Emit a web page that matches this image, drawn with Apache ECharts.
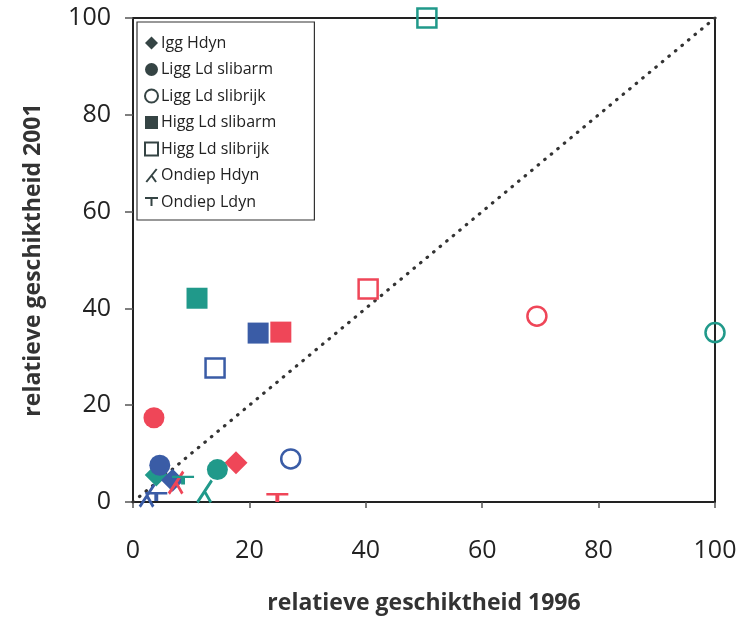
<!DOCTYPE html>
<html>
<head>
<meta charset="utf-8">
<script src="https://cdn.jsdelivr.net/npm/echarts@6/dist/echarts.min.js"></script>
<style>
  html, body { margin: 0; padding: 0; background: #fff; }
  #chart { width: 745px; height: 620px; }
</style>
</head>
<body>
<div id="chart"></div>
<script>
// Point order in every series: groen, blauw, rood
const kleuren = ['#20998a', '#3a5ca6', '#ef4658'];

const iggHdyn        = [[4.0, 5.6], [6.8, 4.5], [17.7, 8.1]];
const liggLdSlibarm  = [[14.5, 6.7], [4.6, 7.6], [3.6, 17.4]];
const liggLdSlibrijk = [[100, 35.0], [27.1, 8.9], [69.4, 38.4]];
const higgLdSlibarm  = [[11.0, 42.1], [21.5, 34.9], [25.4, 35.1]];
const higgLdSlibrijk = [[50.5, 100], [14.1, 27.7], [40.4, 44.0]];
const ondiepHdyn     = [[12.3, 2.2], [2.4, 1.3], [7.4, 4.0]];
const ondiepLdyn     = [[8.6, 4.4], [4.0, 1.0], [24.8, 0.8]];

const seriesNamen = ['Igg Hdyn', 'Ligg Ld slibarm', 'Ligg Ld slibrijk',
  'Higg Ld slibarm', 'Higg Ld slibrijk', 'Ondiep Hdyn', 'Ondiep Ldyn'];
const seriesData = [iggHdyn, liggLdSlibarm, liggLdSlibrijk,
  higgLdSlibarm, higgLdSlibrijk, ondiepHdyn, ondiepLdyn];

const xTicks = [0, 20, 40, 60, 80, 100];
const yTicks = [0, 20, 40, 60, 80, 100];

const legendColor = '#354444';
const lambdaPath = 'path://M0,20L16,0M8,10L15,20';
const tPath = 'path://M0,0L20,0M10,0L10,12';

// marker look per series: [symbol, size, filled]
const markers = [
  ['diamond', 23, true],
  ['circle', 21, true],
  ['circle', 19, false],
  ['rect', 21, true],
  ['rect', 19, false],
  [lambdaPath, [18, 22], false],
  [tPath, [22, 13], false]
];

function buildSeries(i) {
  const [sym, size, filled] = markers[i];
  const isPath = sym.indexOf('path://') === 0;
  const bw = isPath ? 3 : 2.5;
  return {
    name: seriesNamen[i],
    type: 'scatter',
    symbol: sym,
    symbolSize: size,
    symbolKeepAspect: true,
    z: 3,
    itemStyle: filled
      ? { color: legendColor, opacity: 1 }
      : { color: isPath ? 'rgba(0,0,0,0)' : '#fff', borderColor: legendColor, borderWidth: 2.2, opacity: 1 },
    data: seriesData[i].map((p, k) => ({
      value: p,
      itemStyle: filled
        ? { color: kleuren[k], opacity: 1 }
        : { color: 'rgba(255,255,255,0)', borderColor: kleuren[k], borderWidth: bw, opacity: 1 }
    }))
  };
}

const chart = echarts.init(document.getElementById('chart'));
const textFont = '"Open Sans", "Noto Sans", sans-serif';

chart.setOption({
  animation: false,
  backgroundColor: '#fff',
  textStyle: { fontFamily: textFont },
  grid: {
    left: 133, top: 18, right: 30, bottom: 118,
    show: true, borderColor: '#222', borderWidth: 2, backgroundColor: 'transparent'
  },
  legend: {
    orient: 'vertical',
    left: 137, top: 22,
    padding: [13, 38, 10, 7],
    borderColor: '#333', borderWidth: 1.2,
    backgroundColor: '#fff',
    itemWidth: 13, itemHeight: 13, itemGap: 10.5,
    textStyle: { fontSize: 16, color: '#222', fontFamily: textFont, padding: [0, 0, 0, -2] },
    data: seriesNamen
  },
  xAxis: {
    type: 'value', min: 0, max: 100, interval: 20,
    name: 'relatieve geschiktheid 1996',
    nameLocation: 'middle', nameGap: 90,
    nameTextStyle: { fontSize: 23, fontWeight: 'bold', color: '#333', fontFamily: textFont },
    axisLine: { show: true, onZero: false, lineStyle: { color: '#222', width: 2 } },
    axisTick: { show: true, length: 6, lineStyle: { color: '#555', width: 1.5 } },
    axisLabel: { fontSize: 25, color: '#222', margin: 36,
      formatter: v => xTicks.includes(v) ? String(v) : '' },
    splitLine: { show: false }
  },
  yAxis: {
    type: 'value', min: 0, max: 100, interval: 20,
    name: 'relatieve geschiktheid 2001',
    nameLocation: 'middle', nameGap: 88,
    nameTextStyle: { fontSize: 23, fontWeight: 'bold', color: '#333', fontFamily: textFont },
    axisLine: { show: true, onZero: false, lineStyle: { color: '#222', width: 2 } },
    axisTick: { show: true, length: 8, lineStyle: { color: '#555', width: 1.5 } },
    axisLabel: { fontSize: 25, color: '#222', margin: 22,
      formatter: v => yTicks.includes(v) ? String(v) : '' },
    splitLine: { show: false }
  },
  series: [
    {
      // 1:1 reference line
      name: 'gelijk',
      type: 'line',
      data: [[0, 0], [100, 100]],
      symbol: 'none',
      silent: true,
      z: 1,
      lineStyle: { color: '#333', width: 3.2, type: [0.5, 8], cap: 'round' }
    },
    ...seriesNamen.map((_, i) => buildSeries(i))
  ]
});
</script>
</body>
</html>
